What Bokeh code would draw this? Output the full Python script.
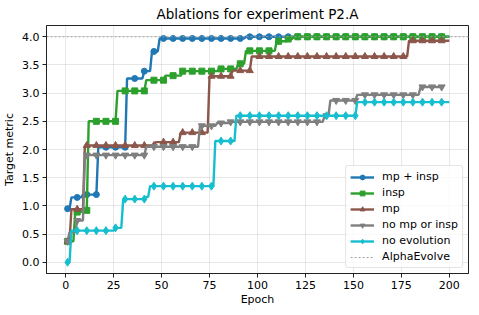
import numpy as np
from bokeh.plotting import figure
from bokeh.models import Range1d, Legend, LegendItem, FixedTicker
from bokeh.embed import file_html
from bokeh.resources import INLINE

# ---------------- data ----------------
title_text = "Ablations for experiment P2.A"
x_label = "Epoch"
y_label = "Target metric"
x_ticks = [0, 25, 50, 75, 100, 125, 150, 175, 200]
y_ticks = [0.0, 0.5, 1.0, 1.5, 2.0, 2.5, 3.0, 3.5, 4.0]
alphaevolve_value = 4.0

# best-so-far curves: epoch at which a new value is reached, and the value
blue_epochs = [1, 3, 9, 17, 32, 41, 45, 49, 94]
blue_values = [0.95, 1.15, 1.20, 2.04, 3.26, 3.39, 3.74, 3.97, 4.00]
blue_last = 200

green_epochs = [1, 5, 9, 12, 27, 42, 52, 61, 80, 90, 94, 110, 116, 119]
green_values = [0.37, 0.89, 0.92, 2.50, 3.04, 3.23, 3.31, 3.39, 3.43, 3.52, 3.75, 3.92, 3.96, 4.00]
green_last = 200

brown_epochs = [1, 3, 10, 47, 60, 75, 87, 97, 179]
brown_values = [0.37, 0.94, 2.07, 2.13, 2.30, 3.30, 3.40, 3.65, 3.93]
brown_last = 200

gray_epochs = [1, 2, 6, 10, 42, 70, 79, 86, 135, 138, 152, 185]
gray_values = [0.37, 0.53, 0.74, 1.90, 2.05, 2.42, 2.47, 2.49, 2.60, 2.87, 2.97, 3.11]
gray_last = 197

cyan_epochs = [1, 3, 26, 30, 42, 44, 78, 89, 152]
cyan_values = [0.00, 0.56, 0.61, 1.12, 1.16, 1.35, 2.15, 2.60, 2.84]
cyan_last = 200

series = [
    ("mp + insp", blue_epochs, blue_values, blue_last, "#1f77b4", "circle", 6),
    ("insp", green_epochs, green_values, green_last, "#2ca02c", "square", 6),
    ("mp", brown_epochs, brown_values, brown_last, "#8c564b", "triangle", 7),
    ("no mp or insp", gray_epochs, gray_values, gray_last, "#7f7f7f", "inverted_triangle", 7),
    ("no evolution", cyan_epochs, cyan_values, cyan_last, "#17becf", "diamond", 8),
]

FONT = "DejaVu Sans"
X_MIN, X_MAX = -10, 210

p = figure(frame_width=422, frame_height=248,
           x_range=Range1d(X_MIN, X_MAX), y_range=Range1d(-0.2, 4.2),
           output_backend="svg", toolbar_location=None,
           min_border_left=41, min_border_right=2, min_border_top=0, min_border_bottom=0)

p.title.text = title_text
p.title.align = "center"
p.title.text_font = FONT
p.title.text_font_size = "13.5px"
p.title.text_font_style = "normal"
p.title.text_color = "#000000"
p.title.standoff = 7
p.title.offset = 0

p.background_fill_color = "white"
p.border_fill_color = "white"
p.outline_line_color = "#222222"
p.outline_line_width = 1
p.outline_line_alpha = 1

p.xaxis.axis_label = x_label
p.yaxis.axis_label = y_label
p.xaxis.ticker = FixedTicker(ticks=x_ticks)
p.yaxis.ticker = FixedTicker(ticks=y_ticks)
p.yaxis.major_label_overrides = {v: f"{v:.1f}" for v in y_ticks}
for ax in (p.xaxis, p.yaxis):
    ax.axis_label_text_font = FONT
    ax.axis_label_text_font_size = "11px"
    ax.axis_label_text_font_style = "normal"
    ax.axis_label_text_color = "#000000"
    ax.major_label_text_font = FONT
    ax.major_label_text_font_size = "11px"
    ax.major_label_text_color = "#000000"
    ax.major_tick_in = 0
    ax.major_tick_out = 4
    ax.minor_tick_in = 0
    ax.minor_tick_out = 0
    ax.major_label_standoff = 3
    ax.axis_line_color = "#222222"
    ax.major_tick_line_color = "#222222"
p.xaxis.axis_label_standoff = 1
p.yaxis.axis_label_standoff = 3

p.grid.grid_line_color = "#b0b0b0"
p.grid.grid_line_alpha = 0.3
p.grid.grid_line_width = 1

items = []
for name, ep, vals, last, color, marker, msize in series:
    epochs = np.arange(1, last + 1)
    idx = np.searchsorted(np.array(ep), epochs, side="right") - 1
    y = np.array(vals)[idx]
    lr = p.line(epochs, y, line_color=color, line_width=2.4)
    sr = p.scatter(epochs[::5], y[::5], marker=marker, size=msize,
                   fill_color=color, line_color=color)
    items.append(LegendItem(label=name, renderers=[lr, sr]))

ae = p.line([X_MIN, X_MAX], [alphaevolve_value, alphaevolve_value],
            line_color="#a0a0a0", line_dash="2 2", line_width=1.2)
items.append(LegendItem(label="AlphaEvolve", renderers=[ae]))

legend = Legend(items=items, location="bottom_right")
legend.margin = 5
legend.padding = 4
legend.spacing = 3
legend.glyph_width = 24
legend.glyph_height = 12
legend.label_height = 12
legend.label_standoff = 8
legend.label_text_font = FONT
legend.label_text_font_size = "11px"
legend.label_text_color = "#000000"
legend.border_line_color = "#cccccc"
legend.border_line_width = 1
legend.background_fill_alpha = 0.8
legend.border_radius = 3
p.add_layout(legend)

open("out.html", "w").write(file_html(p, INLINE))
